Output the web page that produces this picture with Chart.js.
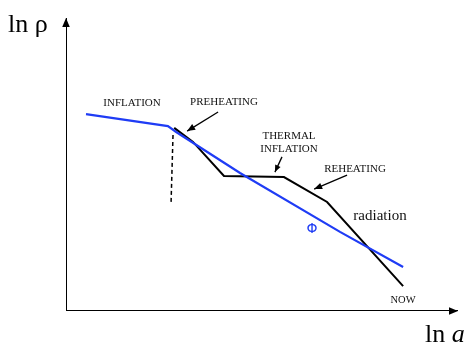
<!DOCTYPE html>
<html>
<head>
<meta charset="utf-8">
<script src="https://cdn.jsdelivr.net/npm/chart.js@4/dist/chart.umd.min.js"></script>
<style>
  html, body { margin: 0; padding: 0; background: #fff; }
  #wrap { width: 474px; height: 350px; }
</style>
</head>
<body>
<div id="wrap"><canvas id="c"></canvas></div>
<script>
// ln a (x) / ln rho (y), arbitrary units 0..100
const phiX      = [5.1, 26.0, 28.1, 44.4, 69.9, 86.0];
const phiY      = [67.2, 63.1, 61.1, 47.1, 27.0, 15.0];
const rhoX      = [27.6, 32.4, 40.3, 55.6, 66.6, 86.0];
const rhoY      = [62.5, 57.7, 46.1, 45.7, 37.2, 8.5];
const dashX     = [27.3, 26.8];
const dashY     = [60.1, 36.9];

// annotation arrows: [tailX, tailY, tipX, tipY]
const arrowPre     = [38.8, 67.9, 30.9, 61.4];
const arrowThermal = [55.1, 52.6, 53.3, 47.4];
const arrowReheat  = [71.7, 46.4, 63.3, 41.6];

const SERIF = '"Liberation Serif", "Times New Roman", serif';
const BLUE  = '#1f3cf5';

const pts = (xs, ys) => xs.map((x, i) => ({ x, y: ys[i] }));
const seg = a => [{ x: a[0], y: a[1] }, { x: a[2], y: a[3] }];

const line = (data, color, width, extra = {}) => ({
  data,
  showLine:    true,
  borderColor: color,
  borderWidth: width,
  pointRadius: 0,
  tension:     0,
  fill:        false,
  ...extra,
});

const arrowHeads = {
  id: 'arrowHeads',
  afterDatasetsDraw(chart) {
    const { ctx, scales: { x, y } } = chart;
    chart.data.datasets.forEach(ds => {
      if (!ds.head) return;
      const n  = ds.data.length;
      const p1 = ds.data[n - 2], p2 = ds.data[n - 1];
      const x1 = x.getPixelForValue(p1.x), y1 = y.getPixelForValue(p1.y);
      const x2 = x.getPixelForValue(p2.x), y2 = y.getPixelForValue(p2.y);
      const ang = Math.atan2(y2 - y1, x2 - x1);
      const len = ds.head, w = ds.head * 0.42;
      ctx.save();
      ctx.fillStyle = ds.borderColor;
      ctx.beginPath();
      ctx.moveTo(x2, y2);
      ctx.lineTo(x2 - len * Math.cos(ang) + w * Math.sin(ang), y2 - len * Math.sin(ang) - w * Math.cos(ang));
      ctx.lineTo(x2 - len * Math.cos(ang) - w * Math.sin(ang), y2 - len * Math.sin(ang) + w * Math.cos(ang));
      ctx.closePath();
      ctx.fill();
      ctx.restore();
    });
  },
};

const labels = {
  id: 'labels',
  afterDraw(chart) {
    const { ctx } = chart;
    const txt = (s, px, py, size, color = '#111', align = 'center', family = SERIF, style = '') => {
      ctx.font = `${style} ${size}px ${family}`;
      ctx.fillStyle = color;
      ctx.textAlign = align;
      ctx.textBaseline = 'alphabetic';
      ctx.fillText(s, px, py);
    };
    ctx.save();
    txt('ln ρ', 8, 32, 26, '#000', 'left');
    txt('ln ', 425, 342, 26, '#000', 'left');
    const w = ctx.measureText('ln ').width;
    txt('a', 425 + w, 342, 26, '#000', 'left', SERIF, 'italic');
    txt('INFLATION', 132, 106, 11);
    txt('PREHEATING', 224, 105, 11);
    txt('THERMAL', 289, 139, 11);
    txt('INFLATION', 289, 152, 11);
    txt('REHEATING', 355, 172, 11);
    txt('radiation', 380, 220, 15);
    txt('NOW', 403, 303, 10.5);
    txt('Φ', 312, 233, 14, BLUE, 'center', '"DejaVu Sans", sans-serif');
    ctx.restore();
  },
};

new Chart(document.getElementById('c'), {
  type: 'scatter',
  data: {
    datasets: [
      line([{ x: 0, y: 0 }, { x: 100, y: 0 }], '#000', 2, { head: 9 }),
      line([{ x: 0, y: 0 }, { x: 0, y: 100 }], '#000', 2, { head: 9 }),
      line(pts(dashX, dashY), '#000', 1.5, { borderDash: [4, 3] }),
      line(pts(phiX, phiY), BLUE, 2.2),
      line(pts(rhoX, rhoY), '#000', 2),
      line(seg(arrowPre), '#000', 1.3, { head: 8 }),
      line(seg(arrowThermal), '#000', 1.3, { head: 7 }),
      line(seg(arrowReheat), '#000', 1.3, { head: 8 }),
    ],
  },
  options: {
    responsive:          true,
    maintainAspectRatio: false,
    animation:           false,
    layout: { padding: { left: 66, right: 16, top: 18, bottom: 39 } },
    plugins: { legend: { display: false }, tooltip: { enabled: false } },
    scales: {
      x: { type: 'linear', min: 0, max: 100, display: false },
      y: { type: 'linear', min: 0, max: 100, display: false },
    },
  },
  plugins: [arrowHeads, labels],
});
</script>
</body>
</html>
